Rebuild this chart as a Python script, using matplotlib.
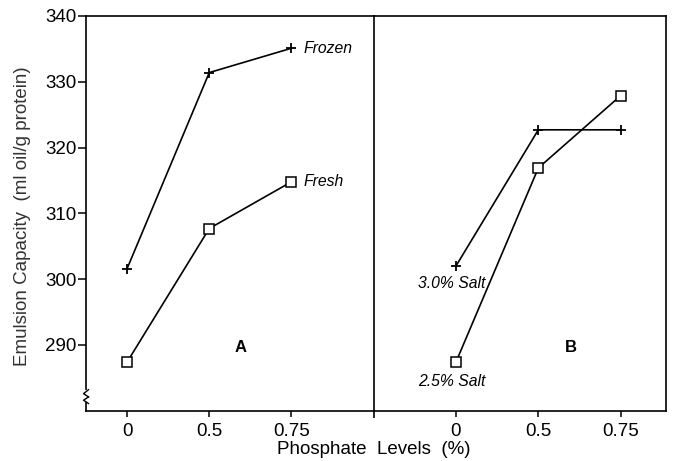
import matplotlib
matplotlib.use("Agg")
import matplotlib.pyplot as plt

plt.rcParams['font.family'] = ['Liberation Sans', 'DejaVu Sans']

levels = ["0", "0.5", "0.75"]
frozen = [301.6, 331.4, 335.1]
fresh = [287.4, 307.7, 314.8]
salt30 = [302.0, 322.7, 322.7]
salt25 = [287.4, 316.9, 327.9]
yticks = [290, 300, 310, 320, 330, 340]

fig = plt.figure(figsize=(6.73, 4.61), dpi=100)
gs = fig.add_gridspec(1, 2, left=0.1278, right=0.9896, top=0.9653, bottom=0.109,
                      wspace=0, width_ratios=[287.6, 292.4])
axA = fig.add_subplot(gs[0])
axB = fig.add_subplot(gs[1], sharey=axA)

xpos = list(range(len(levels)))
lw = 1.2
mk = dict(color='black', lw=lw)

axA.plot(xpos, frozen, marker='+', ms=7.5, mew=1.3, **mk)
axA.plot(xpos, fresh, marker='s', ms=7, mfc='white', mec='black', mew=1.1, **mk)
axB.plot(xpos, salt30, marker='+', ms=7.5, mew=1.3, **mk)
axB.plot(xpos, salt25, marker='s', ms=7, mfc='white', mec='black', mew=1.1, **mk)

axA.set_xlim(-0.5, 3.0)
axB.set_xlim(-1.0, 2.55)
axA.set_ylim(280, 340)
axA.set_yticks(yticks)
axA.set_yticklabels([str(v) for v in yticks], fontsize=13.5)

for ax in (axA, axB):
    ax.set_xticks(xpos)
    ax.set_xticklabels(levels, fontsize=13.5)
    ax.tick_params(axis='x', direction='out', length=4, width=1.1, pad=5)
    for s in ax.spines.values():
        s.set_linewidth(1.2)

# divider line continues slightly below the axis
axB.set_xticks([-1.0], minor=True)
axB.tick_params(axis='x', which='minor', direction='out', length=5, width=1.2)

axA.tick_params(axis='y', direction='out', length=6, width=1.1, pad=1)
axB.tick_params(axis='y', left=False, labelleft=False)
axA.spines['right'].set_visible(False)

# series labels
it = dict(fontsize=11.3, style='italic', va='center')
axA.text(2.15, frozen[2], "Frozen", ha='left', **it)
axA.text(2.15, fresh[2], "Fresh", ha='left', **it)
axB.text(-0.05, salt30[0] - 2.6, "3.0% Salt", ha='center', **it)
axB.text(-0.05, salt25[0] - 2.9, "2.5% Salt", ha='center', **it)

axA.text(1.38, 289.6, "A", fontsize=12, fontweight='bold', ha='center', va='center')
axB.text(1.40, 289.6, "B", fontsize=12, fontweight='bold', ha='center', va='center')

# axis break marks on left spine
yb = 282.3
axA.plot([-0.5, -0.5], [yb - 0.6, yb + 0.6], color='white', lw=3, clip_on=False, zorder=5)
axA.plot([-0.47, -0.53, -0.47], [yb + 0.9, yb + 0.3, yb - 0.2], color='black', lw=1.0,
         clip_on=False, zorder=6)
axA.plot([-0.47, -0.53, -0.47], [yb - 0.2, yb - 0.7, yb - 1.2], color='black', lw=1.0,
         clip_on=False, zorder=6)

fig.text(0.033, 0.532, "Emulsion Capacity  (ml oil/g protein)", rotation=90,
         ha='center', va='center', fontsize=13.5, color='#333333')
fig.text(0.556, 0.024, "Phosphate  Levels  (%)", ha='center', va='center', fontsize=13.5)

fig.savefig("out.png", dpi=100)
